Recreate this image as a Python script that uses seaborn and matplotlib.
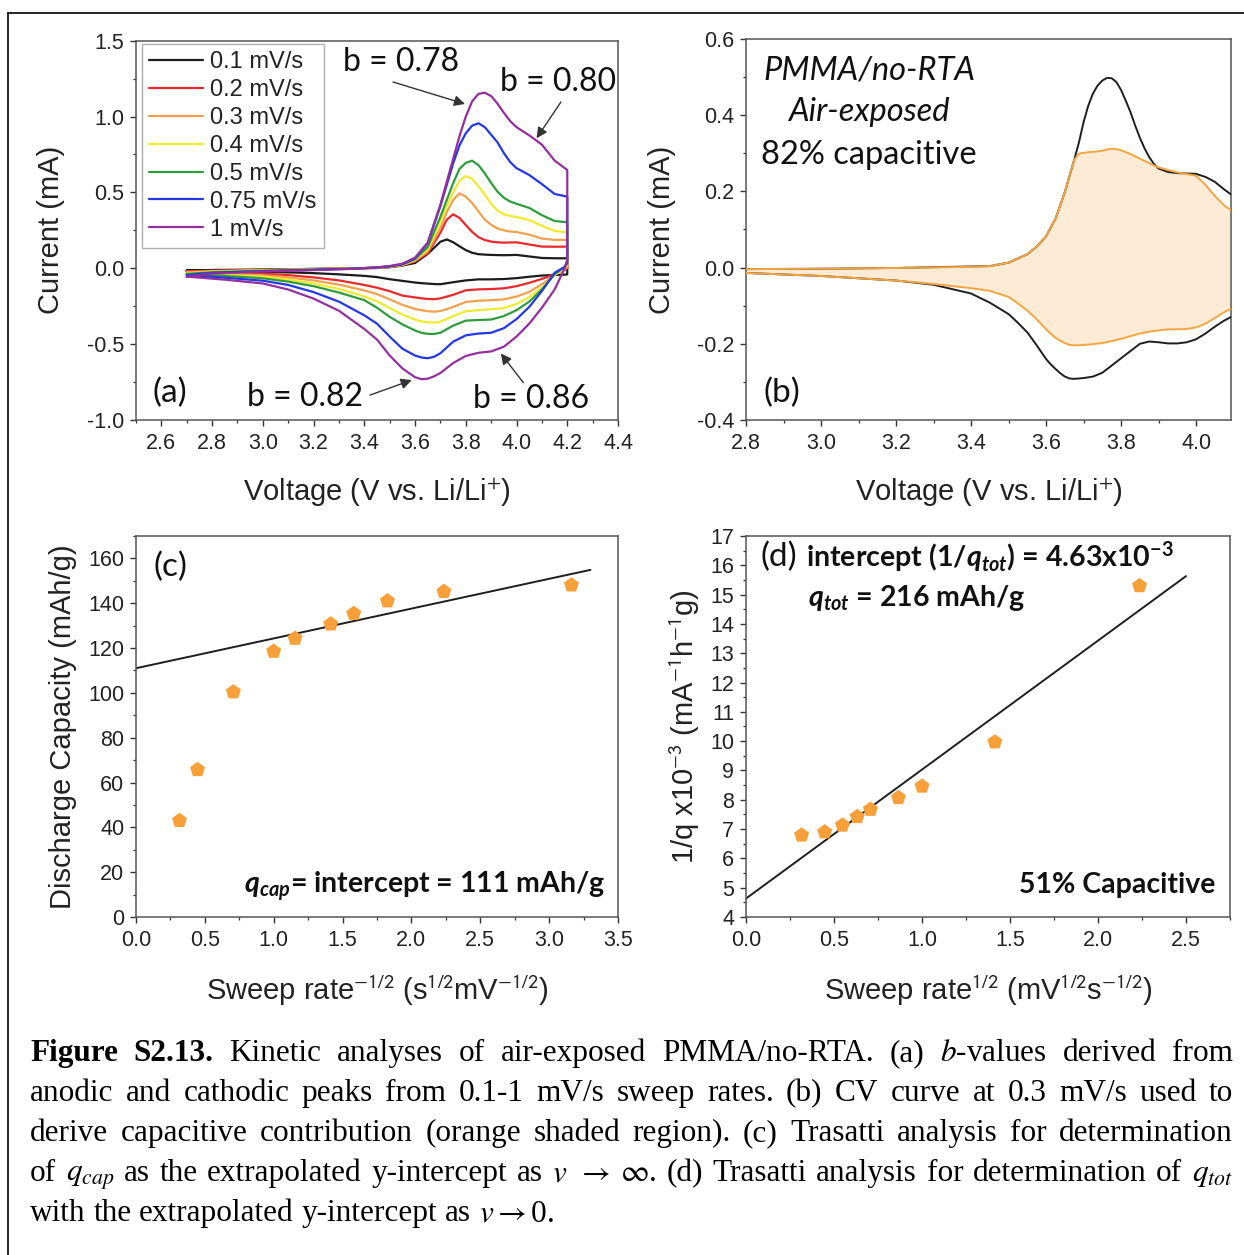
import matplotlib
matplotlib.use("Agg")
import matplotlib.pyplot as plt
import numpy as np
import pandas as pd
import seaborn as sns
from matplotlib.lines import Line2D
from matplotlib.ticker import MultipleLocator

# ---------------------------------------------------------------- data
# (a) cyclic voltammograms at several sweep rates
SWEEP_LABELS = ["0.1 mV/s", "0.2 mV/s", "0.3 mV/s", "0.4 mV/s",
                "0.5 mV/s", "0.75 mV/s", "1 mV/s"]
SWEEP_COLORS = ["#1c1c1c", "#e8282c", "#f2a04e", "#f0ea2e",
                "#2f9c3c", "#2437e6", "#94309e"]

ANODIC_V = [2.70, 2.80, 3.00, 3.20, 3.35, 3.45, 3.50, 3.55, 3.60, 3.65, 3.70,
            3.725, 3.75, 3.775, 3.80, 3.825, 3.85, 3.875, 3.90, 3.925, 3.95,
            3.975, 4.00, 4.05, 4.10, 4.15, 4.20]
CATHODIC_V = [4.20, 4.19, 4.15, 4.10, 4.05, 4.00, 3.95, 3.90, 3.85, 3.80, 3.75,
              3.70, 3.675, 3.65, 3.625, 3.60, 3.55, 3.50, 3.45, 3.40, 3.30,
              3.20, 3.10, 3.00, 2.85, 2.70]

ANODIC_I_01 = [-0.015, -0.011, -0.008, -0.004, -0.001, 0.002, 0.007, 0.018, 0.035, 0.095, 0.175,
               0.190, 0.172, 0.145, 0.120, 0.102, 0.093, 0.090, 0.088, 0.087, 0.086,
               0.087, 0.088, 0.078, 0.068, 0.066, 0.066]
ANODIC_I_02 = [-0.022, -0.016, -0.010, -0.005, -0.001, 0.003, 0.009, 0.020, 0.045, 0.100, 0.235,
               0.320, 0.356, 0.332, 0.285, 0.240, 0.205, 0.186, 0.176, 0.171, 0.169,
               0.170, 0.171, 0.157, 0.143, 0.142, 0.143]
ANODIC_I_03 = [-0.026, -0.019, -0.012, -0.006, -0.001, 0.004, 0.010, 0.022, 0.050, 0.110, 0.265,
               0.370, 0.450, 0.494, 0.472, 0.430, 0.374, 0.320, 0.287, 0.262, 0.250,
               0.242, 0.239, 0.222, 0.196, 0.187, 0.187]
ANODIC_I_04 = [-0.033, -0.022, -0.014, -0.007, -0.002, 0.004, 0.011, 0.023, 0.055, 0.125, 0.310,
               0.410, 0.500, 0.575, 0.609, 0.590, 0.540, 0.485, 0.425, 0.380, 0.356,
               0.345, 0.338, 0.318, 0.280, 0.246, 0.237]
ANODIC_I_05 = [-0.037, -0.026, -0.016, -0.008, -0.002, 0.005, 0.012, 0.025, 0.060, 0.140, 0.340,
               0.450, 0.560, 0.655, 0.695, 0.709, 0.680, 0.625, 0.562, 0.505, 0.465,
               0.440, 0.425, 0.398, 0.350, 0.312, 0.303]
ANODIC_I_075 = [-0.045, -0.030, -0.019, -0.010, -0.003, 0.005, 0.013, 0.027, 0.065, 0.165, 0.410,
                0.550, 0.690, 0.810, 0.890, 0.940, 0.956, 0.930, 0.880, 0.830, 0.760,
                0.700, 0.660, 0.615, 0.555, 0.490, 0.472]
ANODIC_I_1 = [-0.055, -0.035, -0.022, -0.012, -0.004, 0.006, 0.015, 0.030, 0.070, 0.170, 0.420,
              0.570, 0.720, 0.870, 1.000, 1.100, 1.150, 1.157, 1.135, 1.085, 1.025,
              0.970, 0.930, 0.876, 0.815, 0.710, 0.648]

CATHODIC_I_01 = [-0.040, -0.042, -0.044, -0.048, -0.056, -0.065, -0.071, -0.073, -0.073, -0.080, -0.092,
                 -0.105, -0.104, -0.101, -0.098, -0.094, -0.083, -0.072, -0.058, -0.050, -0.040,
                 -0.032, -0.027, -0.024, -0.019, -0.015]
CATHODIC_I_02 = [0.000, -0.010, -0.040, -0.070, -0.096, -0.118, -0.132, -0.137, -0.139, -0.145, -0.175,
                 -0.198, -0.204, -0.202, -0.198, -0.192, -0.180, -0.151, -0.128, -0.110, -0.080,
                 -0.060, -0.045, -0.036, -0.028, -0.022]
CATHODIC_I_03 = [0.010, -0.005, -0.045, -0.105, -0.156, -0.186, -0.205, -0.210, -0.214, -0.222, -0.255,
                 -0.282, -0.286, -0.283, -0.276, -0.268, -0.241, -0.205, -0.170, -0.146, -0.108,
                 -0.080, -0.060, -0.046, -0.035, -0.026]
CATHODIC_I_04 = [0.020, 0.000, -0.045, -0.128, -0.190, -0.235, -0.262, -0.270, -0.276, -0.283, -0.315,
                 -0.352, -0.358, -0.356, -0.350, -0.338, -0.305, -0.262, -0.218, -0.185, -0.136,
                 -0.100, -0.074, -0.056, -0.043, -0.033]
CATHODIC_I_05 = [0.030, 0.010, -0.040, -0.140, -0.220, -0.276, -0.315, -0.338, -0.341, -0.345, -0.378,
                 -0.425, -0.433, -0.432, -0.425, -0.410, -0.370, -0.320, -0.260, -0.210, -0.160,
                 -0.118, -0.088, -0.066, -0.050, -0.037]
CATHODIC_I_075 = [0.040, 0.010, -0.030, -0.150, -0.255, -0.335, -0.395, -0.425, -0.430, -0.442, -0.484,
                  -0.560, -0.583, -0.593, -0.588, -0.575, -0.530, -0.450, -0.365, -0.310, -0.220,
                  -0.157, -0.110, -0.082, -0.062, -0.045]
CATHODIC_I_1 = [0.060, 0.000, -0.140, -0.260, -0.365, -0.450, -0.517, -0.548, -0.557, -0.578, -0.625,
                -0.690, -0.712, -0.728, -0.731, -0.718, -0.660, -0.575, -0.470, -0.400, -0.280,
                -0.200, -0.140, -0.100, -0.075, -0.055]

ANODIC_CURRENTS = [ANODIC_I_01, ANODIC_I_02, ANODIC_I_03, ANODIC_I_04,
                   ANODIC_I_05, ANODIC_I_075, ANODIC_I_1]
CATHODIC_CURRENTS = [CATHODIC_I_01, CATHODIC_I_02, CATHODIC_I_03, CATHODIC_I_04,
                     CATHODIC_I_05, CATHODIC_I_075, CATHODIC_I_1]

# (b) total CV at 0.3 mV/s and its capacitive part
B_ANODIC_V = [2.80, 3.00, 3.20, 3.40, 3.45, 3.50, 3.55, 3.575, 3.60, 3.625, 3.65, 3.675,
              3.6875, 3.70, 3.7125, 3.725, 3.7375, 3.75, 3.7625, 3.775, 3.7875, 3.80,
              3.8125, 3.825, 3.8375, 3.85, 3.8625, 3.875, 3.8875, 3.90, 3.925, 3.95,
              4.00, 4.025, 4.05, 4.075, 4.10]
B_TOTAL_ANODIC = [-0.004, -0.003, -0.001, 0.003, 0.004, 0.013, 0.035, 0.055, 0.082, 0.128, 0.198, 0.283,
                  0.328, 0.382, 0.425, 0.457, 0.478, 0.491, 0.498, 0.497, 0.487, 0.466,
                  0.438, 0.408, 0.373, 0.341, 0.313, 0.290, 0.272, 0.260, 0.251, 0.248,
                  0.246, 0.238, 0.225, 0.205, 0.187]
B_CAP_ANODIC = [-0.004, -0.003, -0.001, 0.002, 0.004, 0.013, 0.035, 0.055, 0.082, 0.128, 0.198, 0.283,
                0.299, 0.301, 0.303, 0.304, 0.305, 0.307, 0.310, 0.312, 0.311, 0.308,
                0.303, 0.298, 0.292, 0.286, 0.280, 0.274, 0.268, 0.263, 0.256, 0.250,
                0.241, 0.217, 0.188, 0.163, 0.146]
B_CATH_V = [4.10, 4.075, 4.05, 4.025, 4.00, 3.975, 3.95, 3.925, 3.90, 3.875, 3.85, 3.825,
            3.80, 3.775, 3.75, 3.725, 3.70, 3.6875, 3.675, 3.6625, 3.65, 3.6375, 3.625,
            3.6125, 3.60, 3.575, 3.55, 3.525, 3.50, 3.45, 3.40, 3.30, 3.20, 3.00, 2.80]
B_TOTAL_CATH = [-0.126, -0.139, -0.155, -0.173, -0.188, -0.196, -0.199, -0.199, -0.196, -0.194, -0.200, -0.219,
                -0.238, -0.257, -0.276, -0.286, -0.290, -0.291, -0.292, -0.291, -0.286, -0.277, -0.266,
                -0.254, -0.240, -0.204, -0.170, -0.145, -0.122, -0.092, -0.068, -0.045, -0.034, -0.022, -0.014]
B_CAP_CATH = [-0.104, -0.117, -0.132, -0.147, -0.157, -0.161, -0.162, -0.162, -0.165, -0.168, -0.173, -0.180,
              -0.187, -0.193, -0.198, -0.201, -0.203, -0.204, -0.204, -0.203, -0.198, -0.192, -0.184,
              -0.174, -0.162, -0.136, -0.113, -0.094, -0.077, -0.061, -0.054, -0.043, -0.034, -0.022, -0.014]

# (c) discharge capacity vs sweep rate^-1/2
C_X = [0.316, 0.447, 0.707, 1.000, 1.155, 1.414, 1.581, 1.826, 2.236, 3.162]
C_CAPACITY = [43.0, 65.7, 100.4, 118.5, 124.3, 130.7, 135.4, 141.0, 145.2, 148.1]
C_FIT_INTERCEPT = 111.0
C_FIT_SLOPE = 13.3
C_FIT_X = [0.0, 3.3]

# (d) 1/q vs sweep rate^1/2
D_X = [0.316, 0.447, 0.548, 0.632, 0.707, 0.866, 1.000, 1.414, 2.236]
D_INV_Q = [6.79, 6.90, 7.13, 7.42, 7.67, 8.07, 8.46, 9.97, 15.30]
D_FIT_INTERCEPT = 4.63
D_FIT_SLOPE = 4.40
D_FIT_X = [0.0, 2.5]

# --------------------------------------------------------------- style
W, H, DPI = 1244, 1255, 100
sns.set_theme(style="ticks")
plt.rcParams.update({
    "font.family": ["Liberation Sans", "DejaVu Sans"],
    "axes.unicode_minus": False,
    "mathtext.fontset": "custom",
    "mathtext.rm": "Lato",
    "mathtext.it": "Lato:italic",
    "mathtext.bf": "Lato:bold",
    "mathtext.sf": "Lato",
    "axes.edgecolor": "#555555",
    "axes.linewidth": 1.1,
    "xtick.color": "#333333",
    "ytick.color": "#333333",
    "xtick.labelcolor": "#222222",
    "ytick.labelcolor": "#222222",
    "xtick.direction": "out",
    "ytick.direction": "out",
    "xtick.major.size": 4.5,
    "ytick.major.size": 4.5,
    "xtick.minor.size": 2.5,
    "ytick.minor.size": 2.5,
    "xtick.major.width": 1.0,
    "ytick.major.width": 1.0,
    "xtick.minor.width": 0.9,
    "ytick.minor.width": 0.9,
    "xtick.major.pad": 5,
    "ytick.major.pad": 4,
    "xtick.labelsize": 15.5,
    "ytick.labelsize": 15.5,
})
HAS_BFIT = "mathtext.bfit" in plt.rcParams
if HAS_BFIT:
    plt.rcParams["mathtext.bfit"] = "Lato:bold:italic"
BFIT = r"\mathbfit" if HAS_BFIT else r"\mathit"

ANNOT_FONT = "Lato"
ORANGE_MARK = "#f7a03a"
ORANGE_LINE = "#f5a540"
ORANGE_FILL = "#fdebd6"


def axes_rect(left, top, right, bottom):
    return [left / W, 1 - bottom / H, (right - left) / W, (bottom - top) / H]


fig = plt.figure(figsize=(W / DPI, H / DPI), dpi=DPI)
ax_a = fig.add_axes(axes_rect(136, 40.7, 618, 420))
ax_b = fig.add_axes(axes_rect(746, 39, 1231, 420))
ax_c = fig.add_axes(axes_rect(136, 536, 618, 917))
ax_d = fig.add_axes(axes_rect(746, 536, 1230, 917))


def style_axis(ax, xmaj, xmin, ymaj, ymin):
    ax.xaxis.set_major_locator(MultipleLocator(xmaj))
    ax.xaxis.set_minor_locator(MultipleLocator(xmin))
    ax.yaxis.set_major_locator(MultipleLocator(ymaj))
    ax.yaxis.set_minor_locator(MultipleLocator(ymin))
    ax.tick_params(which="both", top=False, right=False)
    for sp in ax.spines.values():
        sp.set_visible(True)


LABEL_KW = dict(fontsize=21, color="#222222", math_fontfamily="stixsans")

# ------------------------------------------------------------ panel (a)
for label, color, ia, ic in zip(SWEEP_LABELS, SWEEP_COLORS, ANODIC_CURRENTS, CATHODIC_CURRENTS):
    loop = pd.DataFrame({"V": ANODIC_V + CATHODIC_V, "I": ia + ic})
    sns.lineplot(data=loop, x="V", y="I", sort=False, estimator=None, color=color,
                 lw=1.6, label=label, ax=ax_a)
ax_a.set_xlim(2.5, 4.4)
ax_a.set_ylim(-1.0, 1.5)
style_axis(ax_a, 0.2, 0.1, 0.5, 0.25)
ax_a.set_xticks(np.round(np.arange(2.6, 4.41, 0.2), 1))
ax_a.set_xlabel("Voltage (V vs. Li/Li$^{+}$)", labelpad=16, **LABEL_KW)
ax_a.set_ylabel("Current (mA)", labelpad=16, **LABEL_KW)
leg = ax_a.legend(loc="upper left", bbox_to_anchor=(0.012, 0.991), frameon=True,
                  fancybox=False, edgecolor="#9a9a9a", fontsize=17, handlelength=2.3,
                  labelspacing=0.25, borderpad=0.3, handletextpad=0.3, borderaxespad=0.0)
leg.get_frame().set_linewidth(1.0)
for t in leg.get_texts():
    t.set_color("#222222")

B_TEXT = dict(fontsize=23, family=ANNOT_FONT, color="#111111", ha="center", va="center")
ARROW = dict(arrowstyle="-|>", color="#333333", lw=1.0, mutation_scale=16, shrinkA=0, shrinkB=0)
ax_a.text(3.545, 1.36, "b = 0.78", **B_TEXT)
ax_a.annotate("", xy=(3.797, 1.083), xytext=(3.513, 1.228), arrowprops=ARROW)
ax_a.text(4.163, 1.228, "b = 0.80", **B_TEXT)
ax_a.annotate("", xy=(4.079, 0.857), xytext=(4.175, 1.096), arrowprops=ARROW)
ax_a.text(3.166, -0.849, "b = 0.82", **B_TEXT)
ax_a.annotate("", xy=(3.587, -0.737), xytext=(3.422, -0.836), arrowprops=ARROW)
ax_a.text(4.057, -0.862, "b = 0.86", **B_TEXT)
ax_a.annotate("", xy=(3.938, -0.561), xytext=(4.027, -0.754), arrowprops=ARROW)
ax_a.text(2.634, -0.822, "(a)", fontsize=24, family=ANNOT_FONT, color="#111111",
          ha="center", va="center")

# ------------------------------------------------------------ panel (b)
cap_loop = pd.DataFrame({"V": B_ANODIC_V + B_CATH_V, "I": B_CAP_ANODIC + B_CAP_CATH})
ax_b.fill(cap_loop["V"], cap_loop["I"], color=ORANGE_FILL, lw=0, zorder=1)
tot_loop = pd.DataFrame({"V": B_ANODIC_V + B_CATH_V, "I": B_TOTAL_ANODIC + B_TOTAL_CATH})
sns.lineplot(data=tot_loop, x="V", y="I", sort=False, estimator=None, color="#1e1e1e",
             lw=1.4, ax=ax_b, zorder=3)
sns.lineplot(data=cap_loop, x="V", y="I", sort=False, estimator=None, color=ORANGE_LINE,
             lw=1.4, ax=ax_b, zorder=4)
ax_b.set_xlim(2.8, 4.093)
ax_b.set_ylim(-0.4, 0.6)
style_axis(ax_b, 0.2, 0.1, 0.2, 0.1)
ax_b.set_xlabel("Voltage (V vs. Li/Li$^{+}$)", labelpad=16, **LABEL_KW)
ax_b.set_ylabel("Current (mA)", labelpad=15, **LABEL_KW)
INFO = dict(fontsize=23.5, family=ANNOT_FONT, color="#111111", ha="center", va="center",
            transform=ax_b.transAxes)
ax_b.text(0.2546, 0.9186, "PMMA/no-RTA", style="italic", **INFO)
ax_b.text(0.2536, 0.808, "Air-exposed", style="italic", **INFO)
ax_b.text(0.2526, 0.6955, "82% capacitive", **INFO)
ax_b.text(0.0742, 0.0709, "(b)", fontsize=24, family=ANNOT_FONT, color="#111111",
          ha="center", va="center", transform=ax_b.transAxes)

# ------------------------------------------------------------ panel (c)
sns.scatterplot(x=C_X, y=C_CAPACITY, marker="p", s=130, color=ORANGE_MARK,
                edgecolor="none", ax=ax_c, zorder=3)
c_fit_y = [C_FIT_INTERCEPT + C_FIT_SLOPE * x for x in C_FIT_X]
sns.lineplot(x=C_FIT_X, y=c_fit_y, color="#1e1e1e", lw=1.4, ax=ax_c, zorder=2)
ax_c.set_xlim(0, 3.5)
ax_c.set_ylim(0, 170)
style_axis(ax_c, 0.5, 0.25, 20, 10)
ax_c.set_xlabel("Sweep rate$^{-1/2}$ (s$^{1/2}$mV$^{-1/2}$)", labelpad=16, **LABEL_KW)
ax_c.set_ylabel("Discharge Capacity (mAh/g)", labelpad=8, **LABEL_KW)
ax_c.text(0.0705, 0.9186, "(c)", fontsize=24, family=ANNOT_FONT, color="#111111",
          ha="center", va="center", transform=ax_c.transAxes)
ax_c.text(0.975, 0.0814, rf"${BFIT}{{q}}_{{{BFIT}{{cap}}}}$= intercept = 111 mAh/g",
          fontsize=20.5, family=ANNOT_FONT, weight="bold", color="#111111",
          ha="right", va="center", transform=ax_c.transAxes)

# ------------------------------------------------------------ panel (d)
sns.scatterplot(x=D_X, y=D_INV_Q, marker="p", s=130, color=ORANGE_MARK,
                edgecolor="none", ax=ax_d, zorder=3)
d_fit_y = [D_FIT_INTERCEPT + D_FIT_SLOPE * x for x in D_FIT_X]
sns.lineplot(x=D_FIT_X, y=d_fit_y, color="#1e1e1e", lw=1.4, ax=ax_d, zorder=2)
ax_d.set_xlim(0, 2.75)
ax_d.set_ylim(4, 17)
style_axis(ax_d, 0.5, 0.25, 1, 0.5)
ax_d.set_xlabel("Sweep rate$^{1/2}$ (mV$^{1/2}$s$^{-1/2}$)", labelpad=16, **LABEL_KW)
ax_d.set_ylabel("1/q x10$^{-3}$ (mA$^{-1}$h$^{-1}$g)", labelpad=6, **LABEL_KW)
ax_d.text(0.029, 0.945, "(d)", fontsize=24, family=ANNOT_FONT, color="#111111",
          ha="left", va="center", transform=ax_d.transAxes)
ax_d.text(0.124, 0.945,
          rf"intercept (1/${BFIT}{{q}}_{{{BFIT}{{tot}}}}$) = 4.63x10$^{{\mathbf{{-3}}}}$",
          fontsize=20.5, family=ANNOT_FONT, weight="bold", color="#111111",
          ha="left", va="center", transform=ax_d.transAxes)
ax_d.text(0.128, 0.837, rf"${BFIT}{{q}}_{{{BFIT}{{tot}}}}$ = 216 mAh/g",
          fontsize=20.5, family=ANNOT_FONT, weight="bold", color="#111111",
          ha="left", va="center", transform=ax_d.transAxes)
ax_d.text(0.969, 0.084, "51% Capacitive", fontsize=20.5, family=ANNOT_FONT, weight="bold",
          color="#111111", ha="right", va="center", transform=ax_d.transAxes)

# ------------------------------------------------------- frame + caption
fig.add_artist(Line2D([8 / W, 1.0], [1 - 13 / H, 1 - 13 / H], color="black", lw=1.2,
                      transform=fig.transFigure))
fig.add_artist(Line2D([8 / W, 8 / W], [1 - 13 / H, 0.0], color="black", lw=1.2,
                      transform=fig.transFigure))

CAPTION_LINE_1 = [("Figure", "bold"), ("S2.13.", "bold"), "Kinetic", "analyses", "of",
                  "air-exposed", "PMMA/no-RTA.", "(a)", r"$b$-values", "derived", "from"]
CAPTION_LINE_2 = "anodic and cathodic peaks from 0.1-1 mV/s sweep rates. (b) CV curve at 0.3 mV/s used to".split()
CAPTION_LINE_3 = "derive capacitive contribution (orange shaded region). (c) Trasatti analysis for determination".split()
CAPTION_LINE_4 = ["of", r"$q_{cap}$", "as", "the", "extrapolated", "y-intercept", "as", r"$v$",
                  r"$\rightarrow$", r"$\infty$.", "(d)", "Trasatti", "analysis", "for",
                  "determination", "of", r"$q_{tot}$"]
CAPTION_LINE_5 = ["with", "the", "extrapolated", "y-intercept", "as", r"$v{\rightarrow}$0."]
CAPTION = [CAPTION_LINE_1, CAPTION_LINE_2, CAPTION_LINE_3, CAPTION_LINE_4, CAPTION_LINE_5]
CAP_FS = 22.5

renderer = fig.canvas.get_renderer()
cap_left, cap_right = 30, 1233
for k, tokens in enumerate(CAPTION):
    baseline = 1061 + 40 * k
    words = []
    for tok in tokens:
        txt, weight = tok if isinstance(tok, tuple) else (tok, "normal")
        words.append(fig.text(0, 0, txt, fontsize=CAP_FS, family="Liberation Serif",
                              weight=weight, math_fontfamily="stix", color="black",
                              ha="left", va="baseline"))
    widths = [w.get_window_extent(renderer).width for w in words]
    if k < len(CAPTION) - 1:
        gap = (cap_right - cap_left - sum(widths)) / (len(words) - 1)
    else:
        gap = 0.25 * CAP_FS * DPI / 72
    x = cap_left
    for w, wd in zip(words, widths):
        w.set_position((x / W, 1 - baseline / H))
        x += wd + gap

fig.savefig("out.png", dpi=DPI, facecolor="white")
